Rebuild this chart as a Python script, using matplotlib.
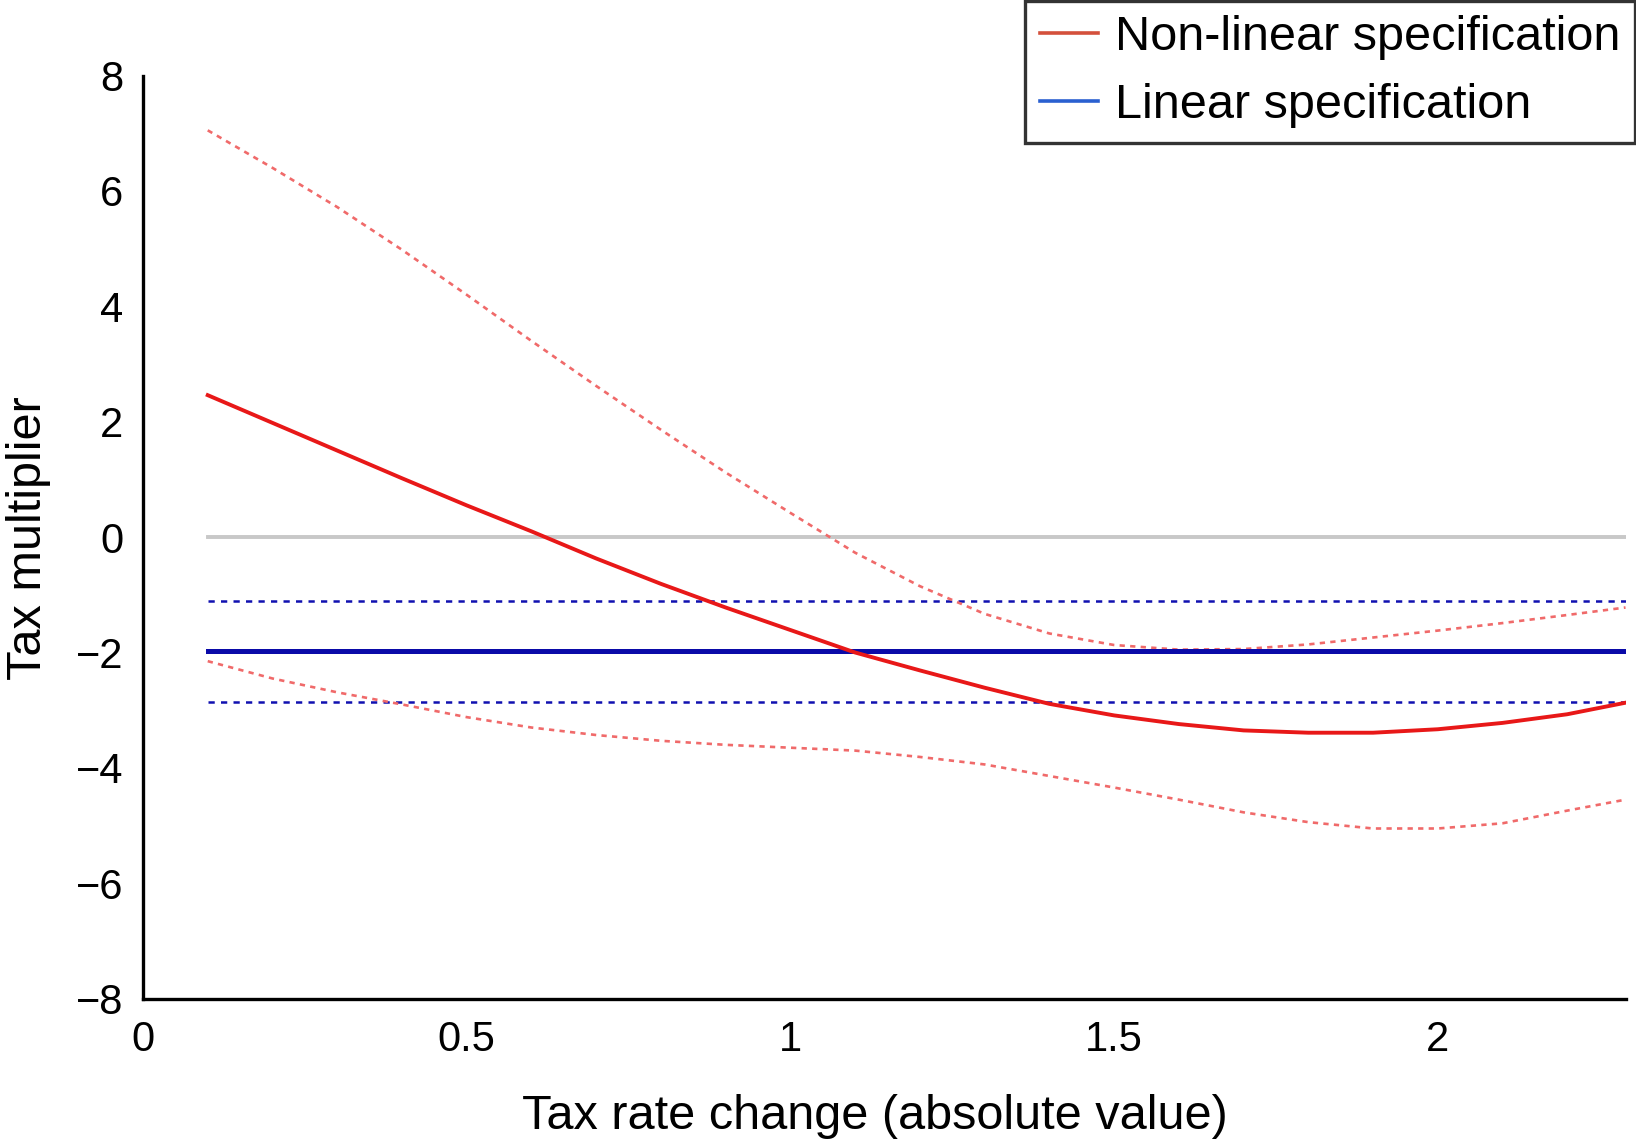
import matplotlib.pyplot as plt
from matplotlib.lines import Line2D

plt.rcParams['font.family'] = ['Liberation Sans', 'DejaVu Sans']

# Values
tax_change = [0.1, 0.2, 0.3, 0.4, 0.5, 0.6, 0.7, 0.8, 0.9, 1.0, 1.1, 1.2,
              1.3, 1.4, 1.5, 1.6, 1.7, 1.8, 1.9, 2.0, 2.1, 2.2, 2.29]
nonlinear = [2.46, 1.98, 1.50, 1.02, 0.55, 0.10, -0.37, -0.81, -1.22, -1.61,
             -2.00, -2.31, -2.61, -2.89, -3.09, -3.24, -3.35, -3.39, -3.39,
             -3.33, -3.22, -3.07, -2.87]
nonlinear_upper = [7.05, 6.40, 5.72, 4.98, 4.20, 3.40, 2.62, 1.86, 1.12, 0.42,
                   -0.27, -0.85, -1.33, -1.67, -1.87, -1.95, -1.94, -1.86,
                   -1.74, -1.62, -1.49, -1.35, -1.22]
nonlinear_lower = [-2.15, -2.45, -2.69, -2.90, -3.12, -3.30, -3.43, -3.53,
                   -3.60, -3.65, -3.70, -3.81, -3.94, -4.14, -4.34, -4.55,
                   -4.77, -4.94, -5.05, -5.05, -4.96, -4.74, -4.55]
linear_mult = -1.98
linear_upper = -1.10
linear_lower = -2.85

x_ticks = [0, 0.5, 1, 1.5, 2]
x_tick_labels = ['0', '0.5', '1', '1.5', '2']
y_ticks = [-8, -6, -4, -2, 0, 2, 4, 6, 8]
y_tick_labels = ['\u22128', '\u22126', '\u22124', '\u22122', '0', '2', '4', '6', '8']

fig = plt.figure(figsize=(16.36, 11.44), dpi=100)
ax = fig.add_axes([0.0874, 0.127, 0.9062, 0.807])

x_span = [tax_change[0], tax_change[-1]]

# zero reference line
ax.plot(x_span, [0, 0], color='#c8c8c8', lw=2.8, zorder=1)

# linear specification with bands
ax.plot(x_span, [linear_upper] * 2, color='#1010b0', lw=1.8, ls=(0, (2.5, 2.5)), zorder=2)
ax.plot(x_span, [linear_lower] * 2, color='#1010b0', lw=1.8, ls=(0, (2.5, 2.5)), zorder=2)
ax.plot(x_span, [linear_mult] * 2, color='#0a0aa8', lw=3.6, zorder=3)

# non-linear specification with bands
ax.plot(tax_change, nonlinear_upper, color='#f06a6a', lw=1.9, ls=(0, (2.0, 2.0)), zorder=2)
ax.plot(tax_change, nonlinear_lower, color='#f06a6a', lw=1.9, ls=(0, (2.0, 2.0)), zorder=2)
ax.plot(tax_change, nonlinear, color='#e81818', lw=2.8, zorder=4)

ax.set_xlim(0, 2.29)
ax.set_ylim(-8, 8)
ax.set_xticks(x_ticks)
ax.set_xticklabels(x_tick_labels)
ax.set_yticks(y_ticks)
ax.set_yticklabels(y_tick_labels)
ax.tick_params(axis='both', length=0, labelsize=30)
ax.tick_params(axis='x', pad=15)
ax.tick_params(axis='y', pad=14)

for side in ['top', 'right']:
    ax.spines[side].set_visible(False)
for side in ['left', 'bottom']:
    ax.spines[side].set_linewidth(2.4)
    ax.spines[side].set_color('black')

fig.text(0.0175, 0.53, 'Tax multiplier', rotation=90, fontsize=35,
         ha='center', va='center')
fig.text(0.5345, 0.024, 'Tax rate change (absolute value)', fontsize=35,
         ha='center', va='center')

handles = [Line2D([], [], color='#d4503c', lw=2.6),
           Line2D([], [], color='#2a60d0', lw=2.6)]
leg = fig.legend(handles, ['Non-linear specification', 'Linear specification'],
                 loc='upper right', bbox_to_anchor=(0.9995, 0.9995),
                 fontsize=35, frameon=True, fancybox=False,
                 handlelength=1.2, handletextpad=0.35, labelspacing=0.48,
                 borderpad=0.3, borderaxespad=0)
leg.get_frame().set_edgecolor('black')
leg.get_frame().set_linewidth(2.4)

fig.savefig('out.png', dpi=100)
